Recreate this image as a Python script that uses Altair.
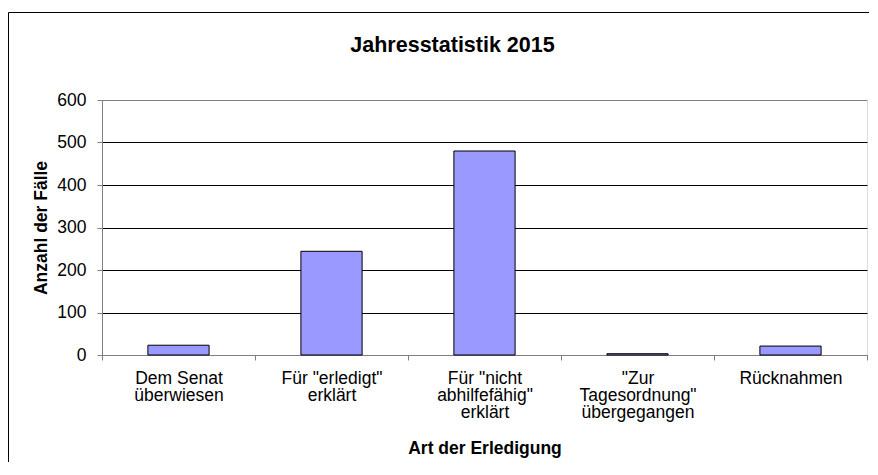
import altair as alt
import pandas as pd

categories = [
    "Dem Senat|überwiesen",
    'Für "erledigt"|erklärt',
    'Für "nicht|abhilfefähig"|erklärt',
    '"Zur|Tagesordnung"|übergegangen',
    "Rücknahmen",
]
values = [23, 244, 480, 3, 21]
y_ticks = [0, 100, 200, 300, 400, 500, 600]

df = pd.DataFrame({"Art": categories, "Anzahl": values})
frame_df = pd.DataFrame({"k": [0]})

FONT = "Liberation Sans"

bars = alt.Chart(df).mark_bar(
    width=alt.RelativeBandSize(0.4),
    color="#9999FF",
    stroke="black",
    strokeWidth=1,
).encode(
    x=alt.X(
        "Art:N",
        sort=categories,
        scale=alt.Scale(paddingInner=0, paddingOuter=0),
        axis=alt.Axis(
            title="Art der Erledigung",
            labelAngle=0,
            labelExpr="split(datum.label, '|')",
            labelLineHeight=17,
            labelBaseline="top",
            labelPadding=9,
            labelFontSize=17.5,
            labelFont=FONT,
            labelColor="black",
            titleFont=FONT,
            titleFontSize=17.5,
            titleFontWeight="bold",
            titleColor="black",
            titlePadding=19,
            tickBand="extent",
            tickColor="#808080",
            tickSize=5,
            domainColor="#808080",
            grid=False,
        ),
    ),
    y=alt.Y(
        "Anzahl:Q",
        scale=alt.Scale(domain=[0, 600], nice=False),
        axis=alt.Axis(
            title="Anzahl der Fälle",
            values=y_ticks,
            labelFontSize=17.5,
            labelFont=FONT,
            labelColor="black",
            labelPadding=11,
            titleFont=FONT,
            titleFontSize=17.5,
            titleFontWeight="bold",
            titleColor="black",
            titlePadding=6,
            tickColor="#808080",
            tickSize=5,
            domainColor="#808080",
            grid=True,
            gridColor={"condition": {"test": "datum.value == 600", "value": "#808080"}, "value": "black"},
            gridWidth=1,
        ),
    ),
)

frame_top = alt.Chart(frame_df).mark_rule(color="black", strokeWidth=1).encode(
    x=alt.value(-93.5), x2=alt.value(767), y=alt.value(-87.5)
)
frame_left = alt.Chart(frame_df).mark_rule(color="black", strokeWidth=1).encode(
    x=alt.value(-93.5), y=alt.value(-87.5), y2=alt.value(362)
)

chart = alt.layer(bars, frame_top, frame_left).properties(
    width=765,
    height=255,
    title=alt.TitleParams(
        "Jahresstatistik 2015",
        font=FONT,
        fontSize=21.5,
        fontWeight="bold",
        color="black",
        baseline="alphabetic",
        frame="group",
        anchor="middle",
        offset=-61,
        dx=-32,
    ),
    autosize=alt.AutoSizeParams(type="none"),
    padding={"left": 94, "top": 92, "right": 2, "bottom": 108},
).configure_view(
    fill="#C0C0C0", stroke="#808080", strokeWidth=1
).configure(background="white")

chart.save("out.html", embed_options={"renderer": "svg", "actions": False})
